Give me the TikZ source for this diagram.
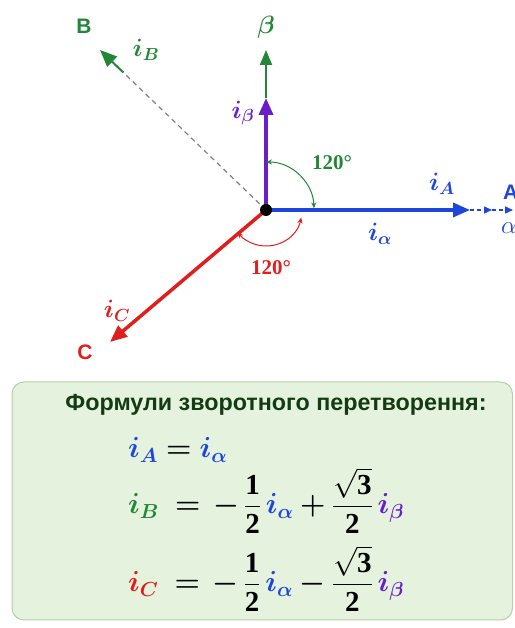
\RequirePackage{fix-cm}
\documentclass[tikz,border=0pt]{standalone}
\usepackage{amsmath,bm}
\usepackage{fontspec}
\setmainfont{Liberation Serif}
\newfontfamily\lsans{Liberation Sans}
\usetikzlibrary{arrows.meta,calc}
\definecolor{cblue}{RGB}{30,70,220}
\definecolor{cviolet}{RGB}{105,30,200}
\definecolor{cgreen}{RGB}{35,135,55}
\definecolor{cred}{RGB}{225,30,30}
\definecolor{ctitle}{RGB}{20,60,20}
\definecolor{boxfill}{RGB}{228,242,222}
\definecolor{boxdraw}{RGB}{180,208,170}
\tikzset{
  vec/.style={line width=3.5pt, -{Triangle[length=17pt,width=14pt]}},
  thinvec/.style={line width=2pt, -{Triangle[length=15pt,width=12pt]}},
  anglearc/.style={line width=1pt, {Stealth[length=6pt,width=5pt]}-{Stealth[length=6pt,width=5pt]}},
  lbl/.style={inner sep=0pt, font=\fontsize{25}{30}\selectfont},
  deg/.style={inner sep=0pt, font=\fontsize{21}{24}\selectfont\bfseries},
  axlbl/.style={inner sep=0pt, font=\fontsize{21}{24}\selectfont\lsans\bfseries},
  eq/.style={anchor=base west, inner sep=0pt, font=\fontsize{29}{34}\selectfont}
}
\begin{document}
\begin{tikzpicture}[x=1pt,y=1pt]
\useasboundingbox (0,0) rectangle (514,628);
% coordinates
\coordinate (O) at (266,418);
\coordinate (Aend) at (470,418);
\coordinate (Amid) at (492,418);
\coordinate (Aext) at (513,418);
\coordinate (Bvi) at (266,530);
\coordinate (Bbeta) at (266,578);
\coordinate (Bend) at (100,578);
\coordinate (Bb) at ($(O)!0.86!(Bend)$);
\coordinate (Cend) at (110,286);
% dashed B line
\draw[gray, line width=1.2pt, dash pattern=on 5pt off 4pt] (O) -- (Bb);
\draw[cgreen, line width=2pt, -{Triangle[length=17pt,width=14pt]}] (Bb) -- (Bend);
% vectors
\draw[cgreen, thinvec] (Bvi) -- (Bbeta);
\draw[cviolet, vec] (O) -- (Bvi);
\draw[cblue, vec] (O) -- (Aend);
\draw[cblue, line width=1.3pt, dash pattern=on 4pt off 3pt, -{Triangle[length=8pt,width=7pt]}] (Aend) -- (Amid);
\draw[cblue, line width=1.3pt, dash pattern=on 4pt off 3pt, -{Triangle[length=8pt,width=7pt]}] (Amid) -- (Aext);
\draw[cred, vec] (O) -- (Cend);
% angle arcs
\draw[cgreen, anglearc] ([shift={(90:48)}]O) arc[start angle=90, end angle=2, radius=48];
\draw[cred, anglearc] ([shift={(-12:36)}]O) arc[start angle=-12, end angle=-142, radius=36];
\fill (O) circle (6);
% labels
\node[axlbl, text=cgreen] (lB) at (84,602) {B};
\node[axlbl, text=cred] (lC) at (85,276) {C};
\node[axlbl, text=cblue, anchor=west] (lA) at (503,436) {A};
\node[lbl, text=cgreen] (lbeta) at (266,601) {$\bm{\beta}$};
\node[lbl, text=cblue, anchor=west] (lalpha) at (501,400) {$\alpha$};
\node[lbl, text=cgreen] (liB) at (146,578) {$\bm{i_B}$};
\node[lbl, text=cviolet] (libeta) at (243,515) {$\bm{i_\beta}$};
\node[lbl, text=cblue] (liA) at (442,444) {$\bm{i_A}$};
\node[lbl, text=cblue] (lialpha) at (380,394) {$\bm{i_\alpha}$};
\node[lbl, text=cred] (liC) at (117,317) {$\bm{i_C}$};
\node[deg, text=cgreen] (d1) at (332,465) {120°};
\node[deg, text=cred] (d2) at (271,360) {120°};
% formula box
\draw[boxdraw, fill=boxfill, line width=1pt, rounded corners=12pt] (12,8) rectangle (512.5,246);
\node[inner sep=0pt, text=ctitle, font=\fontsize{23.3}{27}\selectfont\lsans\bfseries, anchor=base] (title) at (276,217) {Формули зворотного перетворення:};
\node[eq] (r1) at (128,170) {$\textcolor{cblue}{\bm{i_A}} \bm{=} \textcolor{cblue}{\bm{i_\alpha}}$};
\node[eq] (r2) at (128,114) {$\textcolor{cgreen}{\bm{i_B}} \;\bm{=}\, \bm{-}\,\dfrac{\mathbf{1}}{\mathbf{2}}\,\textcolor{cblue}{\bm{i_\alpha}} \bm{+} \dfrac{\sqrt{\mathbf{3}}}{\mathbf{2}}\,\textcolor{cviolet}{\bm{i_\beta}}$};
\node[eq] (r3) at (128,36) {$\textcolor{cred}{\bm{i_C}} \;\bm{=}\, \bm{-}\,\dfrac{\mathbf{1}}{\mathbf{2}}\,\textcolor{cblue}{\bm{i_\alpha}} \bm{-} \dfrac{\sqrt{\mathbf{3}}}{\mathbf{2}}\,\textcolor{cviolet}{\bm{i_\beta}}$};
\end{tikzpicture}
\end{document}
